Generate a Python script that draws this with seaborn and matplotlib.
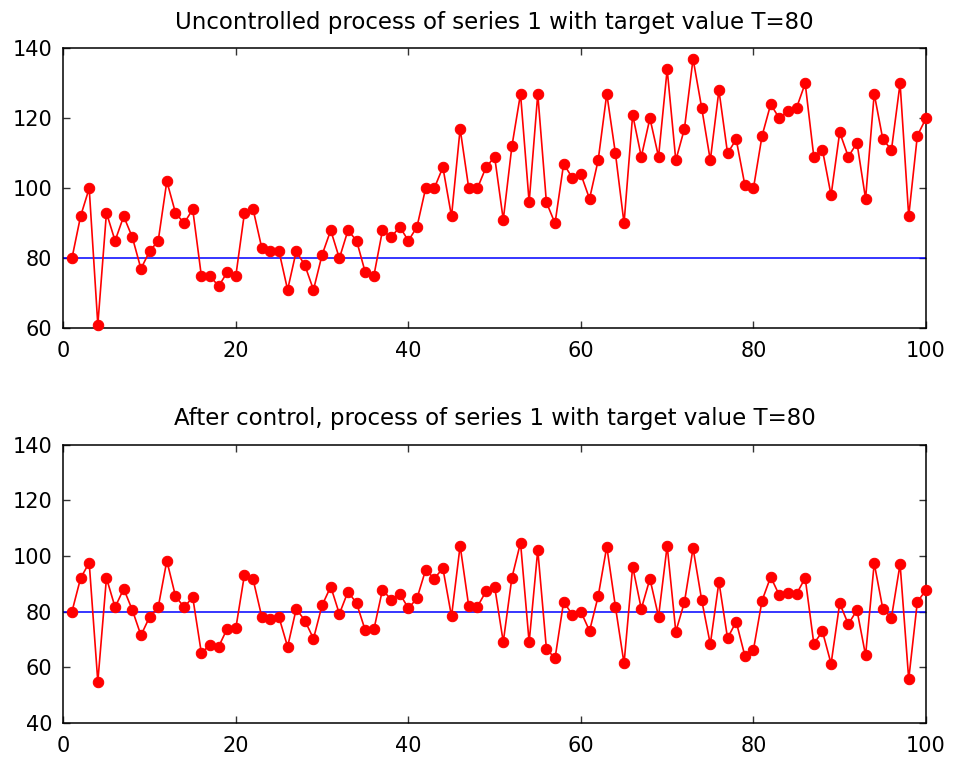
import numpy as np
import pandas as pd
import matplotlib
matplotlib.use("Agg")
import matplotlib.pyplot as plt
import seaborn as sns

sample = list(range(1, 101))
uncontrolled = [80, 92, 100, 61, 93, 85, 92, 86, 77, 82, 85, 102, 93, 90, 94, 75, 75, 72, 76, 75,
                93, 94, 83, 82, 82, 71, 82, 78, 71, 81, 88, 80, 88, 85, 76, 75, 88, 86, 89, 85,
                89, 100, 100, 106, 92, 117, 100, 100, 106, 109, 91, 112, 127, 96, 127, 96, 90, 107, 103, 104,
                97, 108, 127, 110, 90, 121, 109, 120, 109, 134, 108, 117, 137, 123, 108, 128, 110, 114, 101, 100,
                115, 124, 120, 122, 123, 130, 109, 111, 98, 116, 109, 113, 97, 127, 114, 111, 130, 92, 115, 120]
controlled = [80.0, 92.0, 97.6, 54.8, 92.1, 81.6, 88.2, 80.6, 71.5, 78.1, 81.6, 98.3, 85.6, 81.6, 85.2, 65.2, 68.0, 67.4, 73.9, 74.1,
              93.3, 91.6, 78.2, 77.4, 78.0, 67.4, 81.0, 76.8, 70.3, 82.3, 89.0, 79.2, 87.2, 83.0, 73.3, 73.6, 87.9, 84.3, 86.5, 81.2,
              84.8, 95.0, 91.9, 95.6, 78.3, 103.7, 81.9, 81.8, 87.3, 89.0, 69.1, 92.2, 104.8, 69.0, 102.2, 66.7, 63.2, 83.6, 78.9, 80.0,
              73.1, 85.5, 103.4, 81.8, 61.4, 96.2, 81.0, 91.8, 78.2, 103.7, 72.8, 83.4, 102.8, 84.2, 68.3, 90.7, 70.5, 76.4, 64.2, 66.3,
              84.0, 92.5, 85.9, 86.7, 86.4, 92.1, 68.5, 72.9, 61.3, 83.0, 75.5, 80.6, 64.3, 97.4, 81.0, 77.9, 97.1, 55.7, 83.5, 87.8]
target = 80
titles = ["Uncontrolled process of series 1 with target value T=80",
          "After control, process of series 1 with target value T=80"]
ylims = [(60, 140), (40, 140)]

sns.set_style("ticks")
plt.rcParams['font.family'] = ['DejaVu Sans']
plt.rcParams['xtick.direction'] = 'in'
plt.rcParams['ytick.direction'] = 'in'
plt.rcParams['text.color'] = 'black'
plt.rcParams['xtick.labelcolor'] = 'black'
plt.rcParams['ytick.labelcolor'] = 'black'

fig = plt.figure(figsize=(9.55, 7.62), dpi=100)
ax1 = fig.add_axes([0.0663, 0.5692, 0.9033, 0.3674])
ax2 = fig.add_axes([0.0663, 0.0512, 0.9033, 0.3652])

for ax, vals, title, yl in zip([ax1, ax2], [uncontrolled, controlled], titles, ylims):
    df = pd.DataFrame({"t": sample, "v": vals})
    sns.lineplot(data=df, x="t", y="v", ax=ax, color="red", marker="o", markersize=7.5,
                 markeredgecolor="red", linewidth=1.2, zorder=3, clip_on=False)
    ax.axhline(target, color="blue", linewidth=1.1, zorder=2)
    ax.set_xlim(0, 100)
    ax.set_ylim(*yl)
    ax.set_xticks(range(0, 101, 20))
    ax.set_yticks(range(yl[0], yl[1] + 1, 20))
    ax.set_xlabel("")
    ax.set_ylabel("")
    ax.set_title(title, fontsize=16.5, pad=14, color="black")
    ax.tick_params(labelsize=15, top=True, right=True, length=5, width=1, color="#333333")
    ax.tick_params(axis="x", pad=9.5)
    ax.tick_params(axis="y", pad=8)
    for s in ax.spines.values():
        s.set_linewidth(1.1)
        s.set_color("black")

fig.savefig("out.png", dpi=100)
